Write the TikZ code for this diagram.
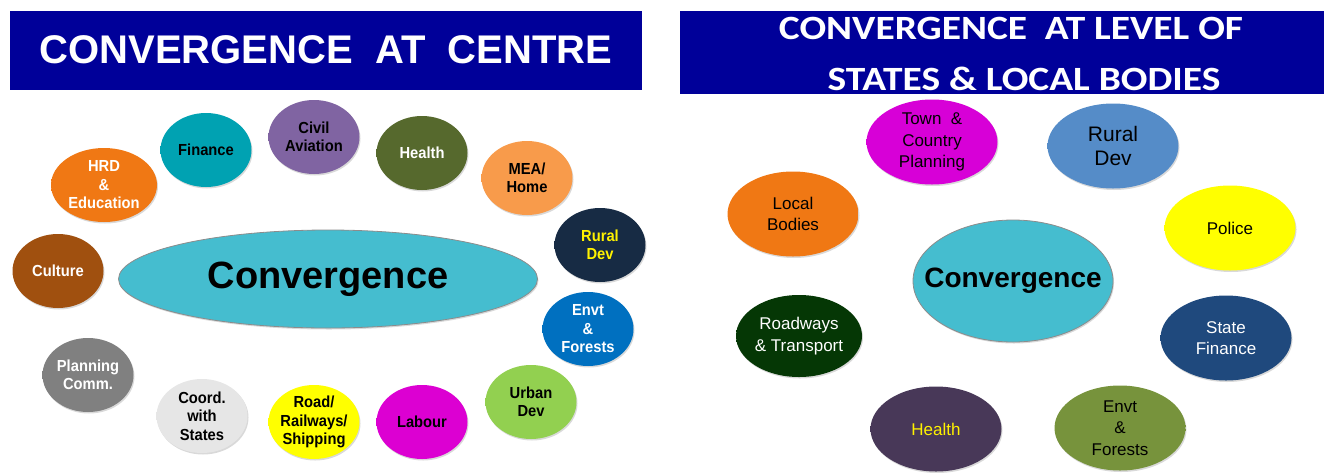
\documentclass[tikz,border=0pt]{standalone}
\usepackage{fontspec}
\setmainfont{Liberation Sans}
\newfontfamily\bannerfont[FakeStretch=1.16]{Carlito}
\newfontfamily\narrowfont[FakeStretch=0.92]{Liberation Sans}
\usetikzlibrary{shapes.geometric,shadows}

% banner and bubble colours
\definecolor{barblue}{RGB}{0,0,153}
\definecolor{hubcyan}{RGB}{69,189,207}
\definecolor{hrdorange}{RGB}{240,120,20}
\definecolor{financeteal}{RGB}{0,162,178}
\definecolor{aviationpurple}{RGB}{128,100,162}
\definecolor{healtholive}{RGB}{86,105,45}
\definecolor{meaorange}{RGB}{248,155,75}
\definecolor{ruralnavy}{RGB}{23,43,68}
\definecolor{culturebrown}{RGB}{160,80,15}
\definecolor{envtblue}{RGB}{0,112,192}
\definecolor{planninggray}{RGB}{128,128,128}
\definecolor{urbangreen}{RGB}{146,208,80}
\definecolor{coordgray}{RGB}{230,230,230}
\definecolor{roadyellow}{RGB}{255,255,0}
\definecolor{labourmagenta}{RGB}{220,0,210}
\definecolor{townmagenta}{RGB}{215,0,215}
\definecolor{srblue}{RGB}{85,140,200}
\definecolor{roadwaysgreen}{RGB}{5,55,5}
\definecolor{sfinblue}{RGB}{31,73,125}
\definecolor{shealthplum}{RGB}{72,56,88}
\definecolor{senvtolive}{RGB}{119,147,60}

% flat fill with a darker rim
\colorlet{bubblefill}{white}
\pgfdeclareradialshading[bubblefill]{bubble}{\pgfpoint{0bp}{0bp}}{color(0bp)=(bubblefill); color(42bp)=(bubblefill); color(50bp)=(bubblefill!55!black); color(100bp)=(bubblefill!55!black)}

\begin{document}
\begin{tikzpicture}[x=1pt, y=-1pt,
    fillcol/.code={\colorlet{bubblefill}{#1}},
    bubble/.style={ellipse, fillcol=#1, shading=bubble, inner sep=-12pt, align=center,
      minimum width=91pt, minimum height=74pt,
      drop shadow={opacity=0.3, shadow xshift=1pt, shadow yshift=-1.5pt},
      font=\narrowfont\bfseries\fontsize{16pt}{18.5pt}\selectfont},
    disc/.style={bubble=#1, minimum width=131pt, minimum height=85pt,
      font=\fontsize{17pt}{21.5pt}\selectfont},
    hub/.style={ellipse, fill=hubcyan, draw=black!45, line width=0.8pt,
      inner xsep=-40pt, inner ysep=0pt,
      drop shadow={opacity=0.3, shadow xshift=1pt, shadow yshift=-1.5pt}},
    banner/.style={fill=barblue, draw=none}]
   \useasboundingbox (0,0) rectangle (1324,472);

   % convergence at centre
   \fill[barblue] (10,11) rectangle (642,90);
   \node[anchor=base, text=white, font=\bfseries\fontsize{40pt}{40pt}\selectfont]
     (centretitle) at (326,63) {CONVERGENCE\ \ AT\ \ CENTRE};

   \node[hub, minimum width=419pt, minimum height=98pt,
     font=\bfseries\fontsize{38pt}{38pt}\selectfont] (conv) at (328,279) {Convergence};

   \node[bubble=hrdorange, minimum width=106pt, text=white] (hrd) at (104,185) {HRD\\\&\\Education};
   \node[bubble=financeteal] (finance) at (206,150) {Finance};
   \node[bubble=aviationpurple] (aviation) at (314,137) {Civil\\Aviation};
   \node[bubble=healtholive, text=white] (health) at (422,153) {Health};
   \node[bubble=meaorange] (mea) at (527,178) {MEA/\\Home};
   \node[bubble=ruralnavy, text=yellow] (rural) at (600,245) {Rural\\Dev};
   \node[bubble=culturebrown, text=white] (culture) at (58,271) {Culture};
   \node[bubble=envtblue, text=white] (envt) at (588,329) {Envt\\\&\\Forests};
   \node[bubble=planninggray, text=white] (planning) at (88,375) {Planning\\Comm.};
   \node[bubble=urbangreen] (urban) at (531,402) {Urban\\Dev};
   \node[bubble=coordgray] (coord) at (202,416) {Coord.\\with\\States};
   \node[bubble=roadyellow] (road) at (314,422) {Road/\\Railways/\\Shipping};
   \node[bubble=labourmagenta] (labour) at (422,422) {Labour};

   % convergence at level of states
   \fill[barblue] (680,11) rectangle (1324,94);
   \node[anchor=base, text=white, font=\bannerfont\bfseries\fontsize{34pt}{34pt}\selectfont]
     (statetitle) at (1011,39) {CONVERGENCE\ \ AT LEVEL OF};
   \node[anchor=base, text=white, font=\bannerfont\bfseries\fontsize{34pt}{34pt}\selectfont]
     (localtitle) at (1024,90) {STATES \& LOCAL BODIES};

   \node[hub, minimum width=200pt, minimum height=122pt,
     font=\bfseries\fontsize{28pt}{28pt}\selectfont] (sconv) at (1013,281) {Convergence};

   \node[disc=townmagenta] (town) at (932,142) {Town\ \ \&\\Country\\Planning};
   \node[disc=srblue, font=\fontsize{21pt}{24pt}\selectfont] (srural) at (1113,146) {Rural\\Dev};
   \node[disc=hrdorange] (local) at (793,214) {Local\\Bodies};
   \node[disc=roadyellow] (police) at (1230,228) {Police};
   \node[disc=roadwaysgreen, minimum width=126pt, minimum height=82pt, text=white]
     (roadways) at (799,336) {Roadways\\\& Transport};
   \node[disc=sfinblue, text=white] (sfinance) at (1226,338) {State\\Finance};
   \node[disc=shealthplum, text=yellow] (shealth) at (936,429) {Health};
   \node[disc=senvtolive] (senvt) at (1120,428) {Envt\\\&\\Forests};
 \end{tikzpicture}
\end{document}
